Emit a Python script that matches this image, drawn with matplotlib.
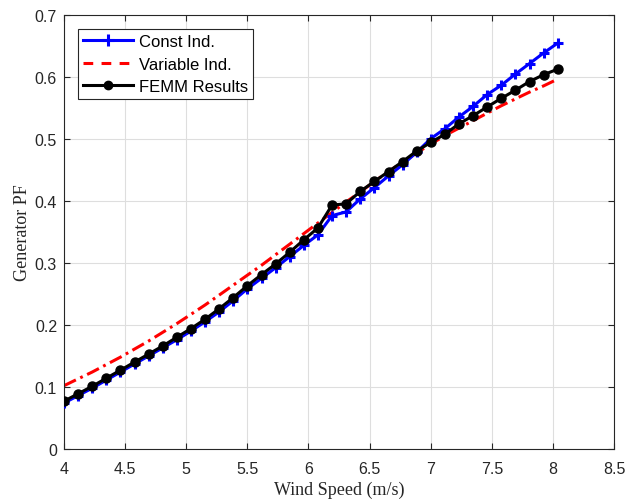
import numpy as np
import matplotlib
matplotlib.use("Agg")
import matplotlib.pyplot as plt
from matplotlib.lines import Line2D

plt.rcParams['lines.scale_dashes'] = False

wind_speed = [4.000, 4.115, 4.231, 4.346, 4.462, 4.577, 4.693, 4.808, 4.923, 5.039,
              5.154, 5.270, 5.385, 5.500, 5.616, 5.731, 5.847, 5.962, 6.077, 6.193,
              6.308, 6.424, 6.539, 6.655, 6.770, 6.885, 7.001, 7.116, 7.232, 7.347,
              7.462, 7.578, 7.693, 7.809, 7.924, 8.040]

const_ind = [0.074, 0.086, 0.098, 0.111, 0.124, 0.137, 0.150, 0.163, 0.176, 0.190,
             0.205, 0.221, 0.239, 0.258, 0.275, 0.292, 0.310, 0.328, 0.345, 0.376,
             0.382, 0.403, 0.421, 0.440, 0.458, 0.478, 0.500, 0.516, 0.535, 0.552,
             0.571, 0.586, 0.604, 0.621, 0.638, 0.654]

variable_ind = [0.102, 0.113, 0.124, 0.136, 0.148, 0.161, 0.174, 0.188, 0.202, 0.217,
                0.232, 0.248, 0.264, 0.280, 0.296, 0.313, 0.330, 0.347, 0.364, 0.381,
                0.398, 0.414, 0.431, 0.447, 0.462, 0.477, 0.491, 0.505, 0.517, 0.529,
                0.541, 0.553, 0.564, 0.575, 0.585, 0.596]

femm = [0.077, 0.089, 0.101, 0.114, 0.127, 0.140, 0.153, 0.166, 0.180, 0.194,
        0.209, 0.226, 0.244, 0.263, 0.281, 0.298, 0.317, 0.337, 0.356, 0.393,
        0.395, 0.415, 0.431, 0.447, 0.463, 0.480, 0.494, 0.507, 0.524, 0.537,
        0.551, 0.565, 0.578, 0.592, 0.603, 0.612]

xticks = [4, 4.5, 5, 5.5, 6, 6.5, 7, 7.5, 8, 8.5]
yticks = [0, 0.1, 0.2, 0.3, 0.4, 0.5, 0.6, 0.7]

fig = plt.figure(figsize=(6.28, 5.02), dpi=100)
ax = fig.add_axes([64/628, 52/502, 550/628, 434.5/502])

ax.plot(wind_speed, const_ind, color='blue', lw=2.2, marker='+', ms=7, mew=2.2, zorder=3)
ax.plot(wind_speed, variable_ind, color='red', lw=2.2, dashes=(9.5, 3.5, 2, 3.5), zorder=2)
ax.plot(wind_speed, femm, color='black', lw=2.2, marker='o', ms=6.5, zorder=4)

ax.set_xlim(4, 8.5)
ax.set_ylim(0, 0.7)
ax.set_xticks(xticks)
ax.set_xticklabels([f"{t:g}" for t in xticks])
ax.set_yticks(yticks)
ax.set_yticklabels([f"{t:g}" for t in yticks])
ax.grid(True, color='#dedede', lw=0.8)
ax.set_axisbelow(True)

for s in ax.spines.values():
    s.set_color('#262626')
    s.set_linewidth(0.8)
ax.tick_params(direction='in', top=True, right=True, length=4, width=0.8,
               color='#262626', labelcolor='#262626', labelsize=11.5)
ax.tick_params(axis='x', pad=9)
ax.tick_params(axis='y', pad=5)
for lab in ax.get_xticklabels() + ax.get_yticklabels():
    lab.set_family('Liberation Sans')

ax.set_xlabel('Wind Speed (m/s)', family='Liberation Serif', fontsize=13, color='#262626', labelpad=3)
ax.set_ylabel('Generator PF', family='Liberation Serif', fontsize=13, color='#262626', labelpad=3)

handles = [
    Line2D([], [], color='blue', lw=2.2, marker='+', ms=8, mew=2.2),
    Line2D([], [], color='red', lw=2.2, dashes=(7, 6)),
    Line2D([], [], color='black', lw=2.2, marker='o', ms=6),
]
leg = ax.legend(handles, ['Const Ind.', 'Variable Ind.', 'FEMM Results'],
                loc='upper left', bbox_to_anchor=(0.0255, 0.9666), borderaxespad=0,
                fancybox=False, framealpha=1, edgecolor='#262626', handlelength=3.0,
                markerscale=1, numpoints=1, prop={'family': 'Liberation Sans', 'size': 12},
                labelspacing=0.45, handletextpad=0.36, borderpad=0.3)
leg.get_frame().set_linewidth(0.8)

fig.savefig('out.png', dpi=100)
